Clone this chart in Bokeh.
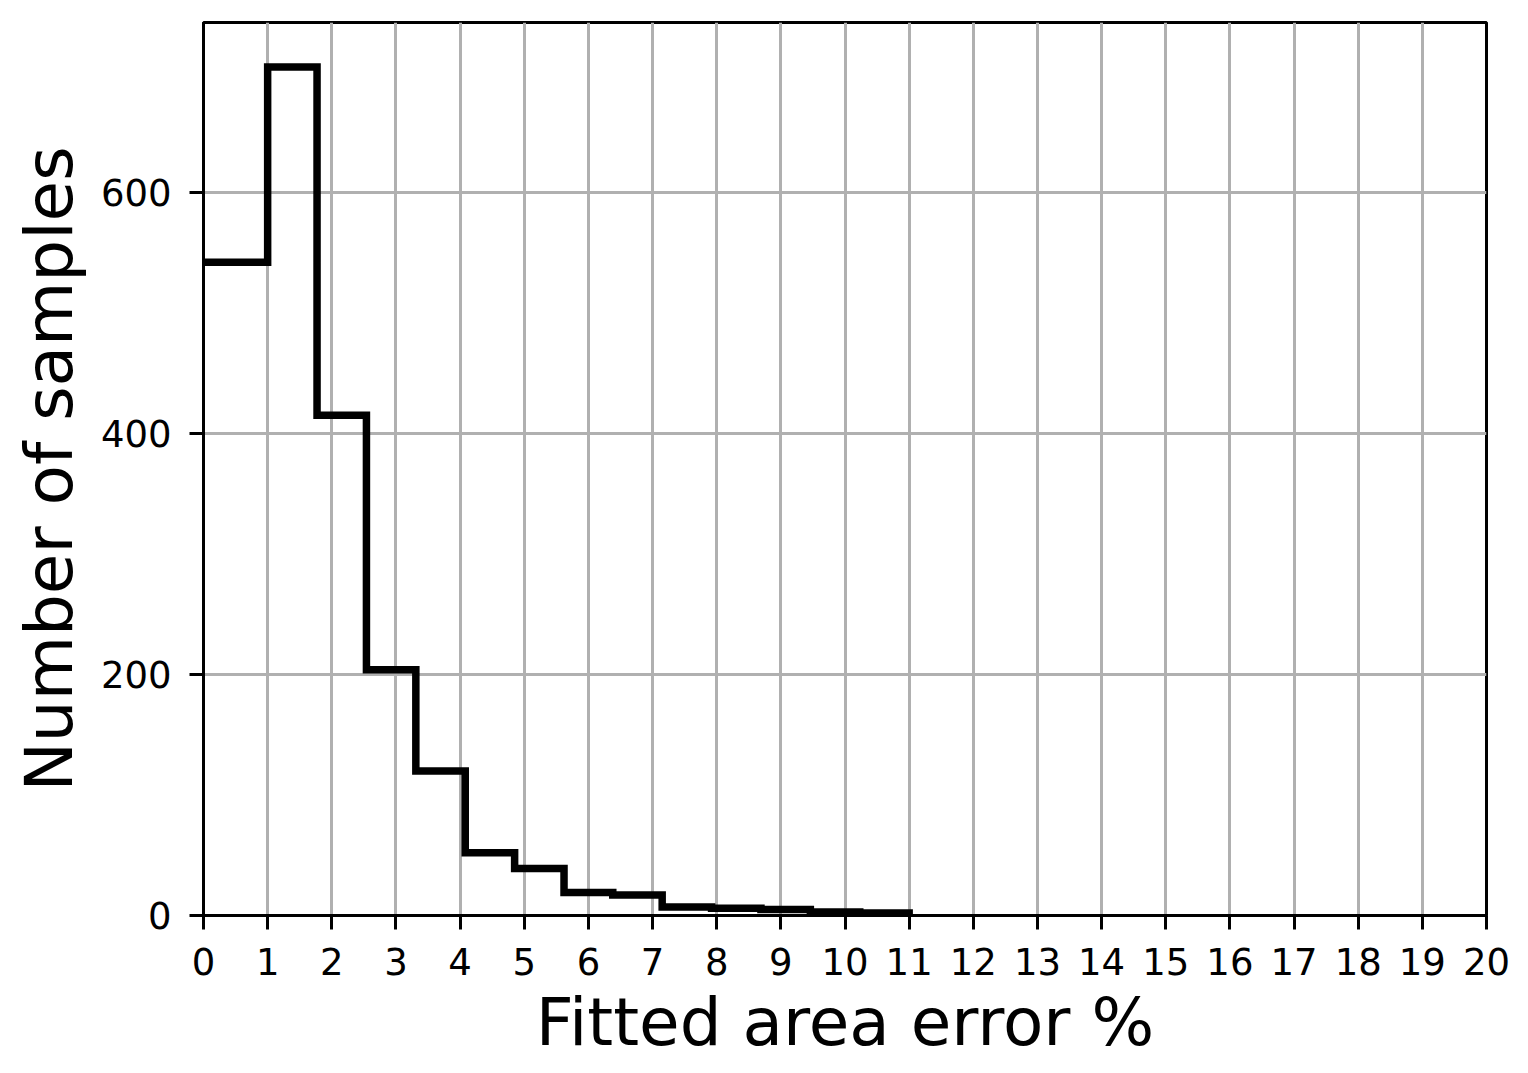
from bokeh.plotting import figure
from bokeh.models import Range1d, FixedTicker
from bokeh.embed import file_html
from bokeh.resources import INLINE

# Histogram bin edges (Fitted area error %) and counts
bin_edges = [0.0, 1.0, 1.77, 2.54, 3.31, 4.08, 4.85, 5.62, 6.38, 7.15, 7.92, 8.69, 9.46, 10.23, 11.0]
counts = [542, 704, 415, 204, 120, 52, 39, 19, 17, 7, 6, 5, 3, 2]
x_ticks = list(range(0, 21))
y_ticks = [0, 200, 400, 600]

# build step outline
xs, ys = [], []
for i, c in enumerate(counts):
    xs += [bin_edges[i], bin_edges[i + 1]]
    ys += [c, c]
xs.append(bin_edges[-1])
ys.append(0)

p = figure(frame_width=1283, frame_height=893,
           x_range=Range1d(0, 20), y_range=Range1d(0, 741),
           output_backend="svg", toolbar_location=None,
           min_border_left=203, min_border_right=30,
           min_border_top=22, min_border_bottom=140)

p.line(xs, ys, line_color="black", line_width=7.5, line_join="miter")

p.outline_line_color = "black"
p.outline_line_width = 3
p.outline_line_alpha = 1

for ax in (p.xaxis[0], p.yaxis[0]):
    ax.axis_line_color = "black"
    ax.axis_line_width = 3
    ax.major_tick_line_color = "black"
    ax.major_tick_line_width = 3
    ax.major_tick_out = 14
    ax.major_tick_in = 0
    ax.minor_tick_line_color = None
    ax.major_label_text_font = "DejaVu Sans"
    ax.major_label_text_font_size = "37px"
    ax.major_label_text_color = "black"
    ax.axis_label_text_font = "DejaVu Sans"
    ax.axis_label_text_font_size = "66px"
    ax.axis_label_text_font_style = "normal"
    ax.axis_label_text_color = "black"

p.xaxis.major_label_standoff = 18
p.xaxis.axis_label_standoff = 6
p.yaxis.major_label_standoff = 18
p.yaxis.axis_label_standoff = 10

p.xaxis.ticker = FixedTicker(ticks=x_ticks)
p.yaxis.ticker = FixedTicker(ticks=y_ticks)
p.xaxis.axis_label = "Fitted area error %"
p.yaxis.axis_label = "Number of samples"

for g in (p.xgrid[0], p.ygrid[0]):
    g.grid_line_color = "#b0b0b0"
    g.grid_line_width = 3
p.xgrid.ticker = FixedTicker(ticks=x_ticks)
p.ygrid.ticker = FixedTicker(ticks=y_ticks)

p.background_fill_color = "white"
p.border_fill_color = "white"

open("out.html", "w").write(file_html(p, INLINE))
